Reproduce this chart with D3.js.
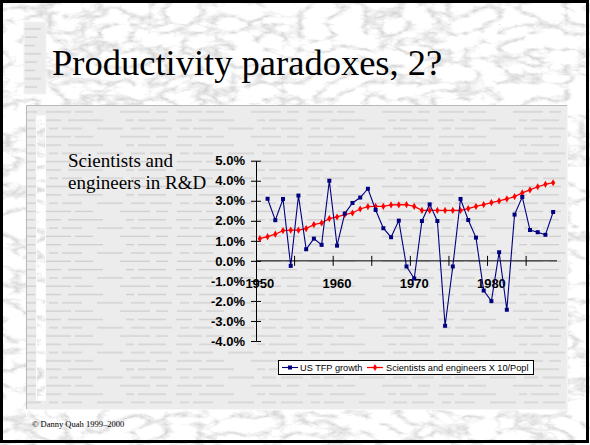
<!DOCTYPE html>
<html>
<head>
<meta charset="utf-8">
<script src="https://cdn.jsdelivr.net/npm/d3@7"></script>
<style>
  body { margin: 0; background: #fff; }
  svg { display: block; }
</style>
</head>
<body>
<div id="chart"></div>
<script>
// Data (percent)
const years = d3.range(1950, 1989);
const tfpGrowth = [null,
  3.10, 2.03, 3.09, -0.25, 3.26, 0.58, 1.11, 0.80, 4.00, 0.76,
  2.36, 2.89, 3.16, 3.60, 2.54, 1.63, 1.18, 2.01, -0.28, -0.88,
  1.99, 2.82, 1.99, -3.24, -0.28, 3.09, 2.04, 1.16, -1.48, -2.01,
  0.43, -2.44, 2.31, 3.19, 1.54, 1.43, 1.30, 2.44];
const scientists = [
  1.11, 1.21, 1.33, 1.51, 1.53, 1.53, 1.61, 1.81, 1.89, 2.11,
  2.19, 2.31, 2.39, 2.59, 2.71, 2.72, 2.72, 2.79, 2.80, 2.81,
  2.72, 2.52, 2.52, 2.52, 2.52, 2.52, 2.52, 2.61, 2.72, 2.81,
  2.91, 2.99, 3.09, 3.21, 3.39, 3.54, 3.70, 3.82, 3.90];
const yTicks = [-4, -3, -2, -1, 0, 1, 2, 3, 4, 5];
const xLabels = [1950, 1960, 1970, 1980];
const seriesNames = ['US TFP growth', 'Scientists and engineers X 10/Popl'];

const W = 590, H = 445;
const svg = d3.select('#chart').append('svg')
  .attr('width', W).attr('height', H);

const defs = svg.append('defs');

// marble look: light stone, grey veins
const marble = defs.append('filter').attr('id', 'marble')
  .attr('x', 0).attr('y', 0).attr('width', '100%').attr('height', '100%');
marble.append('feTurbulence')
  .attr('type', 'turbulence')
  .attr('baseFrequency', '0.03 0.06')
  .attr('numOctaves', 4)
  .attr('seed', 7);
marble.append('feColorMatrix')
  .attr('type', 'matrix')
  .attr('values', '1.1 0 0 0 0.64  1.1 0 0 0 0.64  1.1 0 0 0 0.64  0 0 0 0 1');

// lined paper (rows staggered so the dashes don't line up)
const lined = defs.append('pattern').attr('id', 'lined')
  .attr('patternUnits', 'userSpaceOnUse')
  .attr('width', 131).attr('height', 24.9);
lined.append('rect').attr('width', 131).attr('height', 24.9).attr('fill', '#ececec');
[['14 5 22 8 9 4 20 15 26 8', 0],
 ['30 6 12 9 25 4 18 27', 11],
 ['8 4 28 10 16 7 35 23', 5]].forEach(([dash, off], i) => {
  lined.append('line')
    .attr('x1', 0).attr('x2', 131).attr('y1', 4 + i * 8.3).attr('y2', 4 + i * 8.3)
    .attr('stroke', '#c4c4c4').attr('stroke-width', 1)
    .attr('stroke-dasharray', dash).attr('stroke-dashoffset', off);
});

// background
svg.append('rect').attr('width', W).attr('height', H).attr('fill', '#e4e4e4');
svg.append('rect').attr('width', W).attr('height', H).attr('filter', 'url(#marble)');

// title strip
svg.append('rect').attr('x', 24).attr('y', 22).attr('width', 22).attr('height', 72)
  .attr('fill', 'url(#lined)').attr('stroke', '#f4f4f4').attr('stroke-width', 1);

svg.append('text')
  .attr('x', 52).attr('y', 75)
  .attr('font-family', '"Liberation Serif", "Times New Roman", serif')
  .attr('font-size', 36.5)
  .attr('fill', '#000')
  .text('Productivity paradoxes, 2?');

// content panel
svg.append('rect').attr('x', 26).attr('y', 105).attr('width', 542).attr('height', 305)
  .attr('fill', 'url(#lined)');
svg.append('path')
  .attr('d', 'M26.5,410 V105.5 H568')
  .attr('fill', 'none').attr('stroke', '#b8b8b8');
svg.append('path')
  .attr('d', 'M26,409.5 H567.5 V105')
  .attr('fill', 'none').attr('stroke', '#f6f6f6');

// left marble strip inside the panel
svg.append('rect').attr('x', 36.5).attr('y', 115.5).attr('width', 9).attr('height', 285)
  .attr('filter', 'url(#marble)').attr('fill', '#ddd');
svg.append('rect').attr('x', 36.5).attr('y', 115.5).attr('width', 9).attr('height', 285)
  .attr('fill', 'none').attr('stroke', '#fafafa');

const serif = '"Liberation Serif", "Times New Roman", serif';
const sans = '"Liberation Sans", Arial, sans-serif';

svg.append('text').attr('x', 68).attr('y', 167)
  .attr('font-family', serif).attr('font-size', 19).text('Scientists and');
svg.append('text').attr('x', 68).attr('y', 189)
  .attr('font-family', serif).attr('font-size', 19).text('engineers in R&D');

// scales
const x = d3.scaleLinear().domain([1949.5, 1988.5]).range([256, 557]);
const y = d3.scaleLinear().domain([-4, 5]).range([341, 160.7]);

// y axis
const yAxis = svg.append('g')
  .attr('transform', `translate(${x(1949.5)},0)`)
  .call(d3.axisLeft(y).tickValues(yTicks).tickSize(0).tickPadding(11)
    .tickFormat(d => d.toFixed(1) + '%'));
yAxis.select('.domain').attr('stroke', '#000');
yAxis.selectAll('.tick line').attr('x1', -5).attr('x2', 5).attr('stroke', '#000');
yAxis.selectAll('.tick text')
  .attr('font-family', sans).attr('font-size', 13).attr('font-weight', 'bold').attr('fill', '#000');

// x axis along zero
const xg = svg.append('g').attr('transform', `translate(0,${y(0)})`);
xg.append('line').attr('x1', x(1949.5)).attr('x2', x(1988.5))
  .attr('stroke', '#000');
xg.selectAll('line.tk')
  .data(d3.range(1954.5, 1988.5, 5))
  .join('line').attr('class', 'tk')
  .attr('x1', d => x(d)).attr('x2', d => x(d))
  .attr('y1', -5).attr('y2', 5).attr('stroke', '#000');
xg.selectAll('text')
  .data(xLabels)
  .join('text')
  .attr('x', d => x(d)).attr('y', 27)
  .attr('text-anchor', 'middle')
  .attr('font-family', sans).attr('font-size', 13).attr('font-weight', 'bold')
  .text(d => d);

// series
const tfpPts = years.map((yr, i) => ({ yr, v: tfpGrowth[i] })).filter(d => d.v != null);
const sciPts = years.map((yr, i) => ({ yr, v: scientists[i] }));
const line = d3.line().x(d => x(d.yr)).y(d => y(d.v));

svg.append('path').datum(sciPts)
  .attr('d', line).attr('fill', 'none')
  .attr('stroke', '#ff0000').attr('stroke-width', 1.3);
svg.append('g').selectAll('path')
  .data(sciPts).join('path')
  .attr('transform', d => `translate(${x(d.yr)},${y(d.v)})`)
  .attr('d', d3.symbol(d3.symbolDiamond, 15))
  .attr('fill', '#ff0000');

svg.append('path').datum(tfpPts)
  .attr('d', line).attr('fill', 'none')
  .attr('stroke', '#000080').attr('stroke-width', 1.1);
svg.append('g').selectAll('rect')
  .data(tfpPts).join('rect')
  .attr('x', d => x(d.yr) - 2).attr('y', d => y(d.v) - 2)
  .attr('width', 4).attr('height', 4)
  .attr('fill', '#000080');

// legend
const lg = svg.append('g');
lg.append('rect').attr('x', 278.5).attr('y', 360.5).attr('width', 255).attr('height', 14)
  .attr('fill', '#fff').attr('stroke', '#000');
const legendItems = [
  { name: seriesNames[0], color: '#000080', x0: 282, tx: 300, sq: true },
  { name: seriesNames[1], color: '#ff0000', x0: 367, tx: 386, sq: false }
];
legendItems.forEach(it => {
  lg.append('line').attr('x1', it.x0).attr('x2', it.x0 + 16)
    .attr('y1', 367.5).attr('y2', 367.5)
    .attr('stroke', it.color).attr('stroke-width', it.sq ? 1.1 : 1.3);
  if (it.sq) {
    lg.append('rect').attr('x', it.x0 + 6).attr('y', 365.5).attr('width', 4).attr('height', 4)
      .attr('fill', it.color);
  } else {
    lg.append('path').attr('transform', `translate(${it.x0 + 8},367.5)`)
      .attr('d', d3.symbol(d3.symbolDiamond, 15)).attr('fill', it.color);
  }
  lg.append('text').attr('x', it.tx).attr('y', 370.8)
    .attr('font-family', sans).attr('font-size', 9.2).attr('fill', '#000')
    .text(it.name);
});

// footer
svg.append('text').attr('x', 32).attr('y', 427)
  .attr('font-family', serif).attr('font-size', 8.5)
  .text('© Danny Quah 1999–2000');

// slide frame
svg.append('rect').attr('x', 1.5).attr('y', 1.5).attr('width', W - 4).attr('height', H - 5)
  .attr('fill', 'none').attr('stroke', '#000').attr('stroke-width', 3);
</script>
</body>
</html>
